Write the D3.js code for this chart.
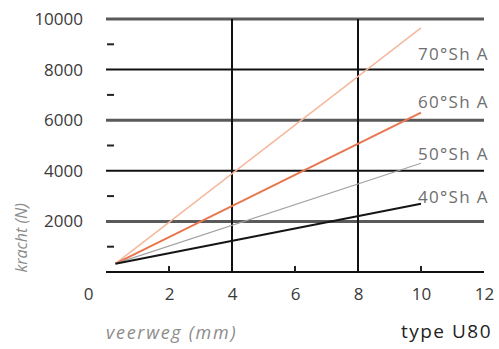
<!DOCTYPE html>
<html lang="nl">
  <head>
    <meta charset="utf-8"/>
    <title>type U80</title>
    <script src="https://d3js.org/d3.v7.min.js"></script>
    <style>
      body { margin: 0; background: #fff; }
      text { font-family: "Open Sans", "DejaVu Sans", sans-serif; }
    </style>
  </head>
  <body>
    <div id="chart"></div>
    <script>
     // hardness series: [veerweg mm, kracht N]
     let series = ["70°Sh A", "60°Sh A", "50°Sh A", "40°Sh A"];
     let start = [0.3, 330];
     let ends = [[10, 9650], [10, 6300], [10, 4300], [10, 2700]];
     let labelY = [8380, 6480, 4430, 2730];
     let colors = ["#f6b89c", "#e8764e", "#a3a3a3", "#151515"];
     let widths = [1.5, 2, 1.2, 2];

     let yLabels = [2000, 4000, 6000, 8000, 10000];
     let yMinor = [1000, 3000, 5000, 7000, 9000];
     let xLabels = [0, 2, 4, 6, 8, 10, 12];
     let xMinor = [2, 6, 10];
     let xGrid = [4, 8];
     let thickGrid = [2000, 6000, 10000];

     let svgWidth = 499, svgHeight = 349;
     let margin = { top: 19, right: 15, bottom: 77, left: 106 };

     let svg = d3.select("#chart").append("svg")
                 .attr("width", svgWidth)
                 .attr("height", svgHeight);

     let x = d3.scaleLinear().domain([0, 12])
               .range([margin.left, svgWidth - margin.right]);
     let y = d3.scaleLinear().domain([0, 10000])
               .range([svgHeight - margin.bottom, margin.top]);

     // horizontal grid
     svg.append("g").selectAll("line")
        .data([0].concat(yLabels))
        .join("line")
        .attr("x1", x(0)).attr("x2", x(12))
        .attr("y1", d => y(d)).attr("y2", d => y(d))
        .attr("stroke", d => thickGrid.includes(d) ? "#5a5a5a" : "#111")
        .attr("stroke-width", d => thickGrid.includes(d) ? 3 : 2);

     // vertical grid
     svg.append("g").selectAll("line")
        .data(xGrid)
        .join("line")
        .attr("x1", d => x(d)).attr("x2", d => x(d))
        .attr("y1", y(0)).attr("y2", y(10000))
        .attr("stroke", "#111")
        .attr("stroke-width", 2);

     // minor ticks
     svg.append("g").selectAll("line")
        .data(yMinor)
        .join("line")
        .attr("x1", x(0) + 1).attr("x2", x(0) + 8)
        .attr("y1", d => y(d)).attr("y2", d => y(d))
        .attr("stroke", "#222").attr("stroke-width", 2);

     svg.append("g").selectAll("line")
        .data(xMinor)
        .join("line")
        .attr("x1", d => x(d)).attr("x2", d => x(d))
        .attr("y1", y(0)).attr("y2", y(0) - 6)
        .attr("stroke", "#222").attr("stroke-width", 2);

     // axes (labels only)
     let yAxis = svg.append("g")
                    .attr("transform", `translate(${margin.left},0)`)
                    .call(d3.axisLeft(y).tickValues(yLabels).tickFormat(d3.format("d"))
                            .tickSize(0).tickPadding(23));
     let xAxis = svg.append("g")
                    .attr("transform", `translate(0,${y(0)})`)
                    .call(d3.axisBottom(x).tickValues(xLabels).tickFormat(d3.format("d"))
                            .tickSize(0).tickPadding(16));
     [xAxis, yAxis].forEach(g => {
         g.select(".domain").remove();
         g.selectAll("text")
          .attr("fill", "#3a3a3a")
          .style("font-size", "17px")
          .style("font-family", "'Open Sans', sans-serif");
     });
     xAxis.selectAll("text").filter(d => d === 0).attr("dx", "-18px");

     // series lines
     let line = d3.line().x(d => x(d[0])).y(d => y(d[1]));
     svg.append("g").selectAll("path")
        .data(ends)
        .join("path")
        .attr("d", d => line([start, d]))
        .attr("fill", "none")
        .attr("stroke", (d, i) => colors[i])
        .attr("stroke-width", (d, i) => widths[i]);

     // series labels
     svg.append("g").selectAll("text")
        .data(series)
        .join("text")
        .attr("x", (d, i) => x(ends[i][0]) - 3)
        .attr("y", (d, i) => y(labelY[i]))
        .attr("fill", "#6e6e6e")
        .style("font-size", "17px")
        .style("letter-spacing", "1.3px")
        .text(d => d);

     // titles
     svg.append("text")
        .attr("transform", `translate(27,${y(1350)}) rotate(-90)`)
        .attr("text-anchor", "middle")
        .attr("fill", "#8c8c8c")
        .style("font-size", "16px")
        .style("font-style", "italic")
        .text("kracht (N)");

     svg.append("text")
        .attr("x", x(0))
        .attr("y", 339)
        .attr("fill", "#8c8c8c")
        .style("font-size", "18px")
        .style("font-style", "italic")
        .style("letter-spacing", "1.7px")
        .text("veerweg (mm)");

     svg.append("text")
        .attr("x", 492)
        .attr("y", 338)
        .attr("text-anchor", "end")
        .attr("fill", "#222")
        .style("font-size", "19px")
        .style("letter-spacing", "1.5px")
        .text("type U80");
    </script>
  </body>
</html>
